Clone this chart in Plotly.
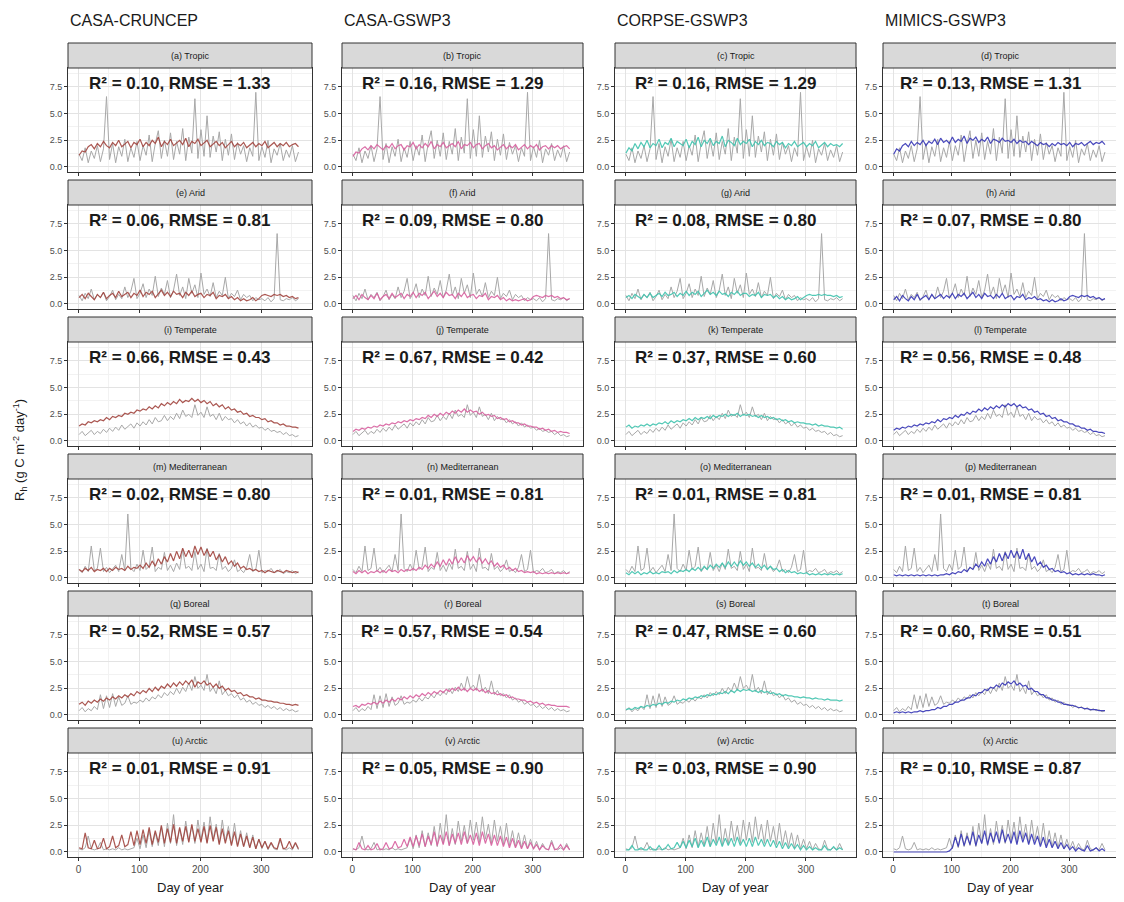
import plotly.graph_objects as go

# ---------------- data ----------------
DAYS = list(range(1, 366, 5))  # sampled every 5 days
REGIONS = ["Tropic", "Arid", "Temperate", "Mediterranean", "Boreal", "Arctic"]
MODELS = ["CASA-CRUNCEP", "CASA-GSWP3", "CORPSE-GSWP3", "MIMICS-GSWP3"]
LETTERS = "abcdefghijklmnopqrstuvwx"
R2 = [[0.10, 0.16, 0.16, 0.13], [0.06, 0.09, 0.08, 0.07], [0.66, 0.67, 0.37, 0.56],
      [0.02, 0.01, 0.01, 0.01], [0.52, 0.57, 0.47, 0.60], [0.01, 0.05, 0.03, 0.10]]
RMSE = [[1.33, 1.29, 1.29, 1.31], [0.81, 0.80, 0.80, 0.80], [0.43, 0.42, 0.60, 0.48],
        [0.80, 0.81, 0.81, 0.81], [0.57, 0.54, 0.60, 0.51], [0.91, 0.90, 0.90, 0.87]]
X_TICKS = [0, 100, 200, 300]
Y_TICKS = [0, 2.5, 5.0, 7.5]
Y_TICK_LABELS = ["0.0", "2.5", "5.0", "7.5"]

obs_tropic = [1.2,0.6,1.8,0.4,1.5,0.8,2.0,0.5,1.7,6.6,
              0.7,2.2,0.4,1.9,1.0,2.6,0.5,1.8,0.9,2.4,
              0.6,2.0,1.1,3.0,0.5,2.2,3.4,0.8,2.5,1.0,
              3.2,0.7,2.4,1.2,3.6,0.6,2.8,1.3,6.4,0.8,
              3.5,1.0,4.8,0.9,2.9,1.4,3.3,0.6,2.6,1.1,
              3.1,0.7,2.3,1.2,2.0,0.5,1.8,1.0,7.0,0.6,
              1.9,0.9,2.5,0.4,1.7,1.1,2.2,0.6,1.6,0.9,
              2.0,0.5,1.4]
cc_tropic = [1.1,1.5,1.4,1.9,2.1,1.7,2.2,1.9,2.4,2.0,
             1.8,2.3,2.0,2.5,1.9,2.2,2.4,1.8,2.3,2.1,
             2.6,1.9,2.3,2.0,2.5,2.2,2.8,1.9,2.4,2.1,
             2.6,2.0,2.3,2.5,2.1,2.7,1.9,2.4,2.2,2.6,
             2.0,2.3,2.5,1.9,2.2,2.4,2.0,2.3,1.8,2.1,
             2.4,1.9,2.2,2.0,2.3,1.8,2.1,2.3,1.9,2.2,
             2.0,2.4,1.8,2.1,2.3,1.9,2.2,2.0,2.3,1.9,
             2.1,2.2,1.9]
cg_tropic = [1.0,1.4,1.3,1.7,1.9,1.6,2.0,1.7,2.1,1.8,
             1.6,2.0,1.8,2.2,1.7,2.0,2.1,1.6,2.0,1.9,
             2.3,1.7,2.1,1.8,2.2,1.9,2.4,1.7,2.1,1.9,
             2.3,1.8,2.0,2.2,1.9,2.4,1.7,2.1,2.0,2.3,
             1.8,2.1,2.2,1.7,2.0,2.2,1.8,2.0,1.6,1.9,
             2.1,1.7,2.0,1.8,2.1,1.6,1.9,2.1,1.7,2.0,
             1.8,2.1,1.6,1.9,2.0,1.7,2.0,1.8,2.0,1.7,
             1.9,2.0,1.7]
co_tropic = [1.3,1.8,1.5,2.2,1.7,2.3,1.9,2.5,1.8,2.2,
             2.0,2.6,1.8,2.3,2.1,2.7,1.9,2.4,2.2,2.0,
             2.6,1.8,2.4,2.1,2.8,1.9,2.5,2.2,2.7,2.0,
             2.4,2.2,2.9,1.9,2.5,2.3,2.0,2.7,2.1,2.4,
             2.2,2.6,1.9,2.4,2.1,2.5,2.0,2.3,2.2,1.9,
             2.4,2.1,2.3,1.8,2.2,2.0,2.4,1.9,2.1,2.3,
             1.9,2.2,2.0,2.4,1.8,2.1,2.3,1.9,2.2,2.0,
             2.1,1.9,2.2]
mi_tropic = [1.2,1.7,1.5,2.0,2.2,1.9,2.4,2.0,2.3,2.1,
             2.5,2.0,2.4,2.2,2.6,2.1,2.7,2.3,2.5,2.2,
             2.8,2.3,2.6,2.4,2.9,2.2,2.7,2.5,2.8,2.3,
             2.6,2.4,2.8,2.2,2.6,2.5,2.3,2.7,2.4,2.5,
             2.3,2.6,2.2,2.5,2.3,2.4,2.1,2.4,2.2,2.0,
             2.3,2.1,2.2,1.9,2.2,2.0,2.3,2.1,2.2,2.0,
             2.3,1.9,2.2,2.1,2.3,2.0,2.2,2.4,2.1,2.3,
             2.2,2.4,2.1]

obs_arid = [0.8,0.3,1.0,0.5,1.4,0.4,0.9,0.6,1.1,0.3,
            0.7,1.3,0.4,0.9,0.5,1.6,0.6,1.2,2.4,0.5,
            1.0,1.9,0.6,1.4,0.8,2.6,0.7,1.5,0.9,2.2,
            0.6,1.3,2.8,0.8,1.6,0.5,2.4,1.0,1.8,0.6,
            2.9,0.9,1.4,0.7,2.0,0.6,1.2,0.8,2.5,0.5,
            1.0,0.7,1.3,0.4,0.9,0.6,0.8,0.3,0.6,0.4,
            0.5,0.3,0.6,0.2,0.5,6.6,0.4,0.3,0.5,0.4,
            0.6,0.3,0.5]
cc_arid = [0.6,0.9,0.5,1.0,0.7,0.4,0.9,0.6,1.1,0.5,
           0.8,1.0,0.6,1.2,0.7,0.9,1.1,0.6,1.0,0.8,
           1.3,0.7,1.1,0.9,1.2,0.6,1.0,1.3,0.8,1.1,
           0.7,1.2,0.9,1.0,0.6,1.1,0.8,1.2,0.7,0.9,
           1.0,0.6,0.9,0.8,1.1,0.5,0.8,0.7,0.9,0.5,
           0.7,0.4,0.6,0.3,0.5,0.3,0.4,0.6,0.3,0.5,
           0.8,0.9,0.8,0.7,0.9,0.8,0.9,0.7,0.8,0.6,
           0.7,0.5,0.6]
cg_arid = [0.5,0.8,0.4,0.9,0.6,0.4,0.8,0.5,1.0,0.4,
           0.7,0.9,0.5,1.0,0.6,0.8,1.0,0.5,0.9,0.7,
           1.1,0.6,1.0,0.8,1.1,0.5,0.9,1.2,0.7,1.0,
           0.6,1.1,0.8,0.9,0.5,1.0,0.7,1.1,0.6,0.8,
           0.9,0.5,0.8,0.7,1.0,0.4,0.7,0.6,0.8,0.4,
           0.6,0.3,0.5,0.3,0.4,0.3,0.4,0.5,0.3,0.4,
           0.7,0.8,0.7,0.6,0.8,0.7,0.8,0.6,0.7,0.5,
           0.6,0.4,0.5]
co_arid = [0.6,0.8,0.5,0.9,0.7,0.5,0.9,0.6,1.0,0.6,
           0.8,1.0,0.7,1.1,0.8,0.9,1.1,0.7,1.0,0.8,
           1.2,0.8,1.1,0.9,1.2,0.7,1.0,1.3,0.9,1.1,
           0.8,1.2,0.9,1.0,0.7,1.1,0.9,1.2,0.8,1.0,
           1.0,0.7,0.9,0.8,1.1,0.6,0.9,0.8,0.9,0.6,
           0.8,0.5,0.7,0.4,0.6,0.4,0.5,0.7,0.4,0.6,
           0.8,0.9,0.8,0.8,0.9,0.8,0.9,0.8,0.8,0.7,
           0.8,0.6,0.7]
mi_arid = [0.4,0.7,0.3,0.8,0.5,0.3,0.7,0.4,0.9,0.4,
           0.6,0.8,0.4,0.9,0.5,0.7,0.9,0.5,0.8,0.6,
           1.0,0.5,0.9,0.7,1.0,0.5,0.8,1.1,0.6,0.9,
           0.5,1.0,0.7,0.8,0.5,0.9,0.6,1.0,0.5,0.7,
           0.8,0.4,0.7,0.6,0.9,0.4,0.6,0.5,0.7,0.4,
           0.5,0.3,0.4,0.2,0.4,0.2,0.3,0.5,0.3,0.4,
           0.7,0.8,0.7,0.6,0.8,0.7,0.8,0.6,0.7,0.5,
           0.6,0.4,0.5]

obs_temperate = [0.6,0.9,0.5,0.8,1.0,0.6,0.9,0.7,1.1,0.8,
                 1.2,0.9,1.3,1.0,1.5,1.1,1.4,1.6,1.2,1.7,
                 1.4,1.8,1.5,2.0,1.6,2.2,1.8,1.9,2.4,1.9,
                 2.3,2.0,2.6,2.1,2.9,2.3,2.5,2.2,3.4,2.4,
                 2.7,2.2,3.2,2.3,2.5,2.0,2.6,1.9,2.3,2.0,
                 2.1,1.7,2.0,1.6,1.8,1.4,1.7,1.3,1.5,1.2,
                 1.3,1.0,1.2,0.9,1.0,0.8,0.9,0.6,0.8,0.5,
                 0.6,0.4,0.5]
cc_temperate = [1.4,1.6,1.5,1.8,1.7,1.9,1.8,2.0,1.9,2.2,
                2.0,2.3,2.2,2.4,2.3,2.6,2.5,2.7,2.6,2.9,
                2.8,3.0,2.9,3.2,3.0,3.3,3.1,3.5,3.3,3.6,
                3.4,3.7,3.5,3.9,3.6,3.8,3.7,4.0,3.7,3.9,
                3.6,3.8,3.5,3.7,3.3,3.5,3.2,3.4,3.0,3.2,
                2.9,3.0,2.7,2.8,2.5,2.6,2.3,2.4,2.2,2.2,
                2.0,2.1,1.8,1.9,1.7,1.7,1.5,1.6,1.4,1.4,
                1.3,1.3,1.2]
cg_temperate = [0.9,1.1,1.0,1.2,1.1,1.3,1.2,1.4,1.3,1.5,
                1.4,1.6,1.5,1.7,1.6,1.8,1.7,1.9,1.8,2.0,
                1.9,2.1,2.0,2.2,2.1,2.4,2.2,2.5,2.3,2.6,
                2.4,2.7,2.5,2.8,2.6,2.9,2.7,3.0,2.7,2.9,
                2.7,2.8,2.5,2.7,2.4,2.5,2.3,2.4,2.1,2.2,
                2.0,2.1,1.8,1.9,1.7,1.7,1.5,1.6,1.4,1.4,
                1.3,1.3,1.1,1.2,1.0,1.1,0.9,1.0,0.8,0.9,
                0.8,0.8,0.7]
co_temperate = [1.3,1.5,1.2,1.4,1.3,1.5,1.4,1.6,1.4,1.6,
                1.5,1.7,1.6,1.8,1.6,1.9,1.7,1.9,1.8,2.0,
                1.9,2.1,1.9,2.2,2.0,2.2,2.1,2.3,2.1,2.4,
                2.2,2.4,2.3,2.5,2.3,2.5,2.4,2.6,2.3,2.5,
                2.4,2.5,2.3,2.4,2.2,2.4,2.2,2.3,2.1,2.2,
                2.0,2.1,1.9,2.0,1.8,1.9,1.7,1.8,1.7,1.7,
                1.6,1.6,1.5,1.6,1.4,1.5,1.4,1.4,1.3,1.3,
                1.2,1.3,1.1]
mi_temperate = [1.0,1.2,1.1,1.3,1.2,1.4,1.3,1.5,1.4,1.6,
                1.5,1.7,1.6,1.8,1.7,2.0,1.8,2.1,2.0,2.2,
                2.1,2.4,2.2,2.5,2.4,2.7,2.5,2.8,2.7,3.0,
                2.8,3.1,2.9,3.2,3.0,3.3,3.1,3.4,3.2,3.5,
                3.3,3.5,3.2,3.4,3.1,3.2,2.9,3.0,2.7,2.8,
                2.5,2.6,2.3,2.4,2.1,2.2,1.9,2.0,1.8,1.8,
                1.6,1.6,1.4,1.4,1.2,1.2,1.0,1.1,0.9,0.9,
                0.8,0.8,0.7]

obs_mediterranean = [0.8,0.5,1.1,0.6,3.0,0.7,0.9,2.8,0.6,1.0,
                     0.5,0.8,1.2,0.6,2.2,0.7,6.0,0.9,0.6,1.3,
                     0.7,2.6,0.8,1.1,2.9,0.6,1.0,0.8,2.4,0.7,
                     1.2,0.6,1.4,0.8,2.7,0.9,1.1,0.7,2.5,0.8,
                     1.3,0.6,2.8,0.9,1.0,0.7,2.3,0.8,1.1,0.6,
                     0.9,1.7,0.6,0.8,0.5,1.0,2.2,0.6,0.8,2.6,
                     0.5,0.7,0.6,0.9,0.5,0.6,0.8,0.4,0.6,0.5,
                     0.7,0.4,0.6]
cc_mediterranean = [0.8,0.6,0.9,0.7,1.0,0.6,0.8,0.7,0.9,0.6,
                    0.9,0.7,1.0,0.8,0.9,0.7,1.1,0.8,1.0,0.9,
                    1.2,0.9,1.4,1.0,1.6,1.1,1.8,1.3,2.0,1.5,
                    2.3,1.6,2.5,1.8,2.8,2.0,2.6,1.9,3.0,2.2,
                    2.9,2.1,2.7,2.0,2.5,1.7,2.2,1.5,2.0,1.3,
                    1.6,1.1,1.4,0.9,1.1,0.8,0.9,0.7,0.8,0.6,
                    0.7,0.5,0.7,0.6,0.5,0.7,0.6,0.5,0.7,0.6,
                    0.5,0.6,0.5]
cg_mediterranean = [0.6,0.4,0.7,0.5,0.7,0.4,0.6,0.5,0.7,0.5,
                    0.7,0.5,0.8,0.6,0.7,0.5,0.8,0.6,0.8,0.7,
                    0.9,0.7,1.0,0.8,1.2,0.9,1.3,1.0,1.5,1.1,
                    1.7,1.2,1.8,1.3,2.0,1.4,1.9,1.4,2.1,1.6,
                    2.0,1.5,1.9,1.4,1.8,1.3,1.6,1.1,1.4,1.0,
                    1.2,0.8,1.0,0.7,0.9,0.6,0.7,0.5,0.6,0.5,
                    0.6,0.4,0.5,0.4,0.5,0.4,0.5,0.4,0.5,0.4,
                    0.5,0.4,0.5]
co_mediterranean = [0.5,0.3,0.6,0.4,0.6,0.3,0.5,0.4,0.6,0.4,
                    0.5,0.4,0.6,0.5,0.6,0.4,0.7,0.5,0.7,0.6,
                    0.8,0.6,0.9,0.7,1.0,0.7,1.1,0.8,1.2,0.9,
                    1.3,1.0,1.4,1.0,1.5,1.1,1.5,1.1,1.6,1.2,
                    1.5,1.1,1.4,1.0,1.3,0.9,1.2,0.8,1.1,0.8,
                    0.9,0.6,0.8,0.5,0.7,0.5,0.6,0.4,0.5,0.4,
                    0.5,0.3,0.4,0.3,0.4,0.3,0.4,0.3,0.4,0.3,
                    0.4,0.3,0.4]
mi_mediterranean = [0.3,0.2,0.3,0.2,0.3,0.2,0.3,0.2,0.3,0.2,
                    0.3,0.2,0.3,0.2,0.3,0.2,0.3,0.3,0.4,0.3,
                    0.5,0.4,0.6,0.5,0.8,0.6,1.0,0.8,1.3,1.0,
                    1.5,1.1,1.8,1.3,2.0,1.5,2.3,1.6,2.4,1.8,
                    2.6,1.9,2.5,1.8,2.7,1.7,2.3,1.5,2.0,1.2,
                    1.5,1.0,1.2,0.8,0.9,0.6,0.7,0.5,0.6,0.4,
                    0.5,0.3,0.4,0.3,0.4,0.3,0.4,0.3,0.4,0.3,
                    0.3,0.2,0.3]

obs_boreal = [0.4,0.7,0.3,0.6,0.4,0.8,0.5,1.9,0.6,1.8,
              0.7,2.0,0.8,1.7,0.9,1.1,1.8,1.0,1.2,1.1,
              1.4,1.2,1.6,1.3,1.7,1.5,1.9,1.6,2.1,1.8,
              2.2,1.9,2.5,2.0,2.6,2.2,3.0,2.3,3.6,2.5,
              2.8,2.3,3.8,2.2,2.6,2.0,3.2,1.9,2.3,1.8,
              2.0,1.6,1.9,1.4,1.6,1.2,1.4,1.0,1.2,0.9,
              1.0,0.7,0.9,0.6,0.8,0.5,0.7,0.4,0.6,0.4,
              0.5,0.3,0.4]
cc_boreal = [1.0,1.2,0.9,1.3,1.1,1.4,1.2,1.5,1.3,1.6,
             1.4,1.7,1.5,1.8,1.6,1.9,1.7,2.0,1.8,2.2,
             2.0,2.3,2.1,2.5,2.2,2.6,2.3,2.7,2.5,2.9,
             2.6,3.0,2.7,3.1,2.8,3.2,2.9,3.3,2.6,3.1,
             2.9,3.2,2.8,3.0,2.6,2.9,2.5,2.7,2.3,2.5,
             2.2,2.3,2.0,2.1,1.8,1.9,1.7,1.7,1.5,1.6,
             1.4,1.4,1.3,1.3,1.2,1.2,1.1,1.1,1.0,1.0,
             0.9,1.0,0.9]
cg_boreal = [0.8,0.9,0.7,1.0,0.9,1.1,1.0,1.2,1.0,1.3,
             1.1,1.4,1.2,1.5,1.3,1.6,1.4,1.7,1.5,1.8,
             1.6,1.9,1.7,2.0,1.8,2.1,1.9,2.2,2.0,2.3,
             2.1,2.4,2.2,2.5,2.3,2.6,2.3,2.5,2.2,2.5,
             2.3,2.5,2.2,2.4,2.1,2.3,2.0,2.1,1.9,2.0,
             1.8,1.9,1.6,1.7,1.5,1.5,1.4,1.4,1.2,1.3,
             1.1,1.2,1.0,1.1,0.9,1.0,0.9,0.9,0.8,0.8,
             0.8,0.8,0.7]
co_boreal = [0.5,0.6,0.5,0.7,0.6,0.8,0.7,0.9,0.8,1.0,
             0.9,1.1,1.0,1.2,1.1,1.3,1.2,1.4,1.3,1.5,
             1.4,1.6,1.5,1.7,1.6,1.8,1.7,1.9,1.8,2.0,
             1.9,2.1,2.0,2.2,2.0,2.3,2.1,2.4,2.2,2.4,
             2.3,2.4,2.2,2.3,2.1,2.3,2.1,2.2,2.0,2.1,
             1.9,2.0,1.8,1.9,1.8,1.8,1.7,1.7,1.6,1.7,
             1.6,1.6,1.5,1.6,1.5,1.5,1.4,1.5,1.4,1.4,
             1.4,1.3,1.4]
mi_boreal = [0.2,0.3,0.2,0.3,0.2,0.3,0.2,0.3,0.3,0.4,
             0.3,0.4,0.4,0.5,0.5,0.7,0.6,0.8,0.8,1.0,
             1.0,1.2,1.2,1.4,1.4,1.6,1.6,1.9,1.8,2.1,
             2.1,2.4,2.3,2.6,2.5,2.8,2.6,3.0,2.8,3.1,
             2.9,3.2,2.8,3.0,2.7,2.8,2.4,2.5,2.2,2.2,
             1.9,1.9,1.6,1.6,1.4,1.4,1.2,1.2,1.0,1.0,
             0.9,0.9,0.8,0.7,0.7,0.6,0.6,0.5,0.5,0.5,
             0.4,0.4,0.4]

obs_arctic = [0.3,0.2,0.4,1.5,0.3,0.2,0.3,0.9,0.2,0.3,
              0.2,0.3,0.2,0.4,0.2,0.3,0.2,0.3,0.4,1.3,
              0.3,1.6,0.4,2.0,0.5,1.8,0.6,2.4,0.5,2.7,
              0.8,3.5,0.6,2.2,0.7,2.9,1.0,2.5,0.8,3.0,
              1.1,2.8,0.9,3.3,1.2,2.6,0.8,3.0,1.0,2.4,
              0.7,2.7,0.6,2.0,0.5,1.8,0.4,1.6,0.3,1.2,
              0.3,1.0,0.2,0.8,0.3,0.2,1.1,0.3,0.2,0.4,
              0.2,0.8,0.2]
cc_arctic = [0.4,0.3,1.8,0.4,0.3,1.1,0.3,0.4,1.3,0.3,
             0.5,1.5,0.4,0.6,1.6,0.5,0.7,1.9,0.6,2.0,
             0.7,2.1,0.8,2.3,0.7,2.0,0.9,2.5,0.8,2.2,
             0.9,2.6,0.8,2.3,1.0,2.4,0.9,2.6,1.0,2.2,
             0.9,2.4,0.8,2.5,1.0,2.3,0.7,2.2,0.8,2.0,
             0.6,1.9,0.5,1.7,0.5,1.5,0.4,1.4,0.3,1.2,
             0.4,1.0,0.3,0.9,0.4,0.3,1.3,0.3,0.4,1.0,
             0.3,0.9,0.3]
cg_arctic = [0.3,0.2,0.9,0.3,0.2,0.6,0.2,0.3,0.8,0.2,
             0.3,0.9,0.3,0.4,1.0,0.4,0.5,1.2,0.5,1.4,
             0.5,1.5,0.6,1.7,0.5,1.5,0.7,1.9,0.6,1.6,
             0.7,1.9,0.6,1.7,0.8,1.8,0.7,1.9,0.8,1.6,
             0.7,1.8,0.6,1.9,0.8,1.7,0.6,1.6,0.6,1.5,
             0.5,1.4,0.4,1.3,0.4,1.1,0.3,1.0,0.3,0.9,
             0.3,0.7,0.2,0.6,0.3,0.2,0.9,0.2,0.3,0.7,
             0.2,0.6,0.2]
co_arctic = [0.2,0.2,0.6,0.2,0.2,0.4,0.2,0.2,0.5,0.2,
             0.2,0.6,0.2,0.3,0.7,0.3,0.4,0.9,0.4,1.0,
             0.4,1.1,0.5,1.3,0.4,1.1,0.5,1.4,0.5,1.2,
             0.6,1.4,0.5,1.3,0.6,1.3,0.5,1.4,0.6,1.2,
             0.5,1.3,0.5,1.4,0.6,1.2,0.5,1.2,0.5,1.1,
             0.4,1.0,0.3,0.9,0.3,0.8,0.3,0.7,0.2,0.6,
             0.2,0.5,0.2,0.4,0.2,0.2,0.6,0.2,0.2,0.5,
             0.2,0.4,0.2]
mi_arctic = [0.0,0.0,0.0,0.0,0.0,0.0,0.0,0.0,0.0,0.0,
             0.0,0.0,0.0,0.0,0.0,0.0,0.0,0.0,0.0,0.1,
             0.4,1.4,0.5,1.7,0.6,1.5,0.7,1.9,0.6,1.6,
             0.8,2.0,0.7,1.8,0.9,1.9,0.8,2.1,0.9,1.7,
             0.8,1.9,0.7,2.0,0.9,1.8,0.7,1.7,0.7,1.5,
             0.5,1.4,0.4,1.2,0.4,1.0,0.3,0.9,0.3,0.7,
             0.2,0.5,0.1,0.4,0.2,0.1,0.6,0.1,0.2,0.4,
             0.1,0.3,0.1]

OBS = [obs_tropic, obs_arid, obs_temperate, obs_mediterranean, obs_boreal, obs_arctic]
SIM = [
    [cc_tropic, cg_tropic, co_tropic, mi_tropic],
    [cc_arid, cg_arid, co_arid, mi_arid],
    [cc_temperate, cg_temperate, co_temperate, mi_temperate],
    [cc_mediterranean, cg_mediterranean, co_mediterranean, mi_mediterranean],
    [cc_boreal, cg_boreal, co_boreal, mi_boreal],
    [cc_arctic, cg_arctic, co_arctic, mi_arctic],
]

# ---------------- style / layout ----------------
# the page body has an 8px margin, so the figure is drawn 8px smaller and
# every target pixel position is shifted by that offset
OFF = 8
W, H = 1124 - OFF, 902 - OFF
MODEL_COLORS = ["#a2453f", "#d8609f", "#3fc3ae", "#3636b6"]
OBS_COLOR = "#a8a8a8"
FONT = "Liberation Sans, Arial, sans-serif"
COL_LR = [(68, 312), (342, 583), (615, 856), (883, 1118)]
ROW_TOP = [43, 180, 317, 454, 591, 728]
STRIP_H = 25
PANEL_H = 104


def px(x):
    return (x - OFF) / W


def py(y):
    return 1 - (y - OFF) / H


fig = go.Figure()
layout = dict(
    width=W, height=H, margin=dict(l=0, r=0, t=0, b=0, autoexpand=False),
    paper_bgcolor="white", plot_bgcolor="white", showlegend=False,
    font=dict(family=FONT, color="#333333"),
)
shapes, annotations = [], []

for r in range(6):
    for c in range(4):
        k = r * 4 + c + 1
        xa = "xaxis" if k == 1 else f"xaxis{k}"
        ya = "yaxis" if k == 1 else f"yaxis{k}"
        xr = "x" if k == 1 else f"x{k}"
        yr = "y" if k == 1 else f"y{k}"
        L, R = COL_LR[c]
        T = ROW_TOP[r]
        top = T + STRIP_H
        bot = top + PANEL_H
        obs = OBS[r]
        sim = SIM[r][c]
        fig.add_trace(go.Scatter(x=DAYS[:len(obs)], y=obs, mode="lines",
                                 line=dict(color=OBS_COLOR, width=1), xaxis=xr, yaxis=yr,
                                 hoverinfo="skip"))
        fig.add_trace(go.Scatter(x=DAYS[:len(sim)], y=sim, mode="lines",
                                 line=dict(color=MODEL_COLORS[c], width=1.2), opacity=0.9,
                                 xaxis=xr, yaxis=yr, hoverinfo="skip"))
        xaxis = dict(
            domain=[px(L), px(R)], anchor=yr, range=[-17.2, 383.2], automargin=False,
            tickvals=X_TICKS, showticklabels=(r == 5), ticks="outside", ticklen=3,
            tickcolor="#333333", tickfont=dict(size=10, color="#4d4d4d"),
            showgrid=True, gridcolor="#e3e3e3", gridwidth=1,
            minor=dict(dtick=50, tick0=0, showgrid=True, gridcolor="#f2f2f2", ticks=""),
            zeroline=False, showline=True, mirror=True, linecolor="#333333", linewidth=1,
        )
        if r == 5:
            xaxis["ticktext"] = [str(v) for v in X_TICKS]
        layout[xa] = xaxis
        layout[ya] = dict(
            domain=[py(bot), py(top)], anchor=xr, range=[-0.47, 9.28], automargin=False,
            tickvals=Y_TICKS, ticktext=Y_TICK_LABELS, ticks="outside", ticklen=3,
            tickcolor="#333333", tickfont=dict(size=9, color="#4d4d4d"),
            showgrid=True, gridcolor="#e3e3e3", gridwidth=1,
            minor=dict(dtick=1.25, tick0=0, showgrid=True, gridcolor="#f2f2f2", ticks=""),
            zeroline=False, showline=True, mirror=True, linecolor="#333333", linewidth=1,
        )
        # facet strip
        shapes.append(dict(type="rect", xref="paper", yref="paper",
                           x0=px(L), x1=px(R), y0=py(top), y1=py(T),
                           fillcolor="#d9d9d9", line=dict(color="#333333", width=1)))
        annotations.append(dict(xref="paper", yref="paper", x=px((L + R) / 2),
                                y=py(T + STRIP_H / 2), text=f"({LETTERS[k - 1]}) {REGIONS[r]}",
                                showarrow=False, font=dict(size=9, color="#1a1a1a"),
                                xanchor="center", yanchor="middle"))
        # statistic label
        annotations.append(dict(xref=xr, yref=yr, x=166, y=7.8,
                                text=f"<b>R² = {R2[r][c]:.2f}, RMSE = {RMSE[r][c]:.2f}</b>",
                                showarrow=False, font=dict(size=17, color="#1a1a1a"),
                                xanchor="center", yanchor="middle"))
        if r == 5:
            annotations.append(dict(xref="paper", yref="paper", x=px((L + R) / 2), y=py(887),
                                    text="Day of year", showarrow=False,
                                    font=dict(size=13, color="#1a1a1a"),
                                    xanchor="center", yanchor="middle"))

# column titles
for c in range(4):
    annotations.append(dict(xref="paper", yref="paper", x=px(COL_LR[c][0]), y=py(21),
                            text=MODELS[c], showarrow=False,
                            font=dict(size=16, color="#1a1a1a"),
                            xanchor="left", yanchor="middle"))

# y-axis title
annotations.append(dict(xref="paper", yref="paper", x=px(20), y=py(450),
                        text="R<sub>h</sub> (g C m<sup>-2</sup> day<sup>-1</sup>)",
                        showarrow=False, textangle=-90, font=dict(size=13, color="#1a1a1a"),
                        xanchor="center", yanchor="middle"))

layout["shapes"] = shapes
layout["annotations"] = annotations
fig.update_layout(**layout)
fig.write_html("out.html")
